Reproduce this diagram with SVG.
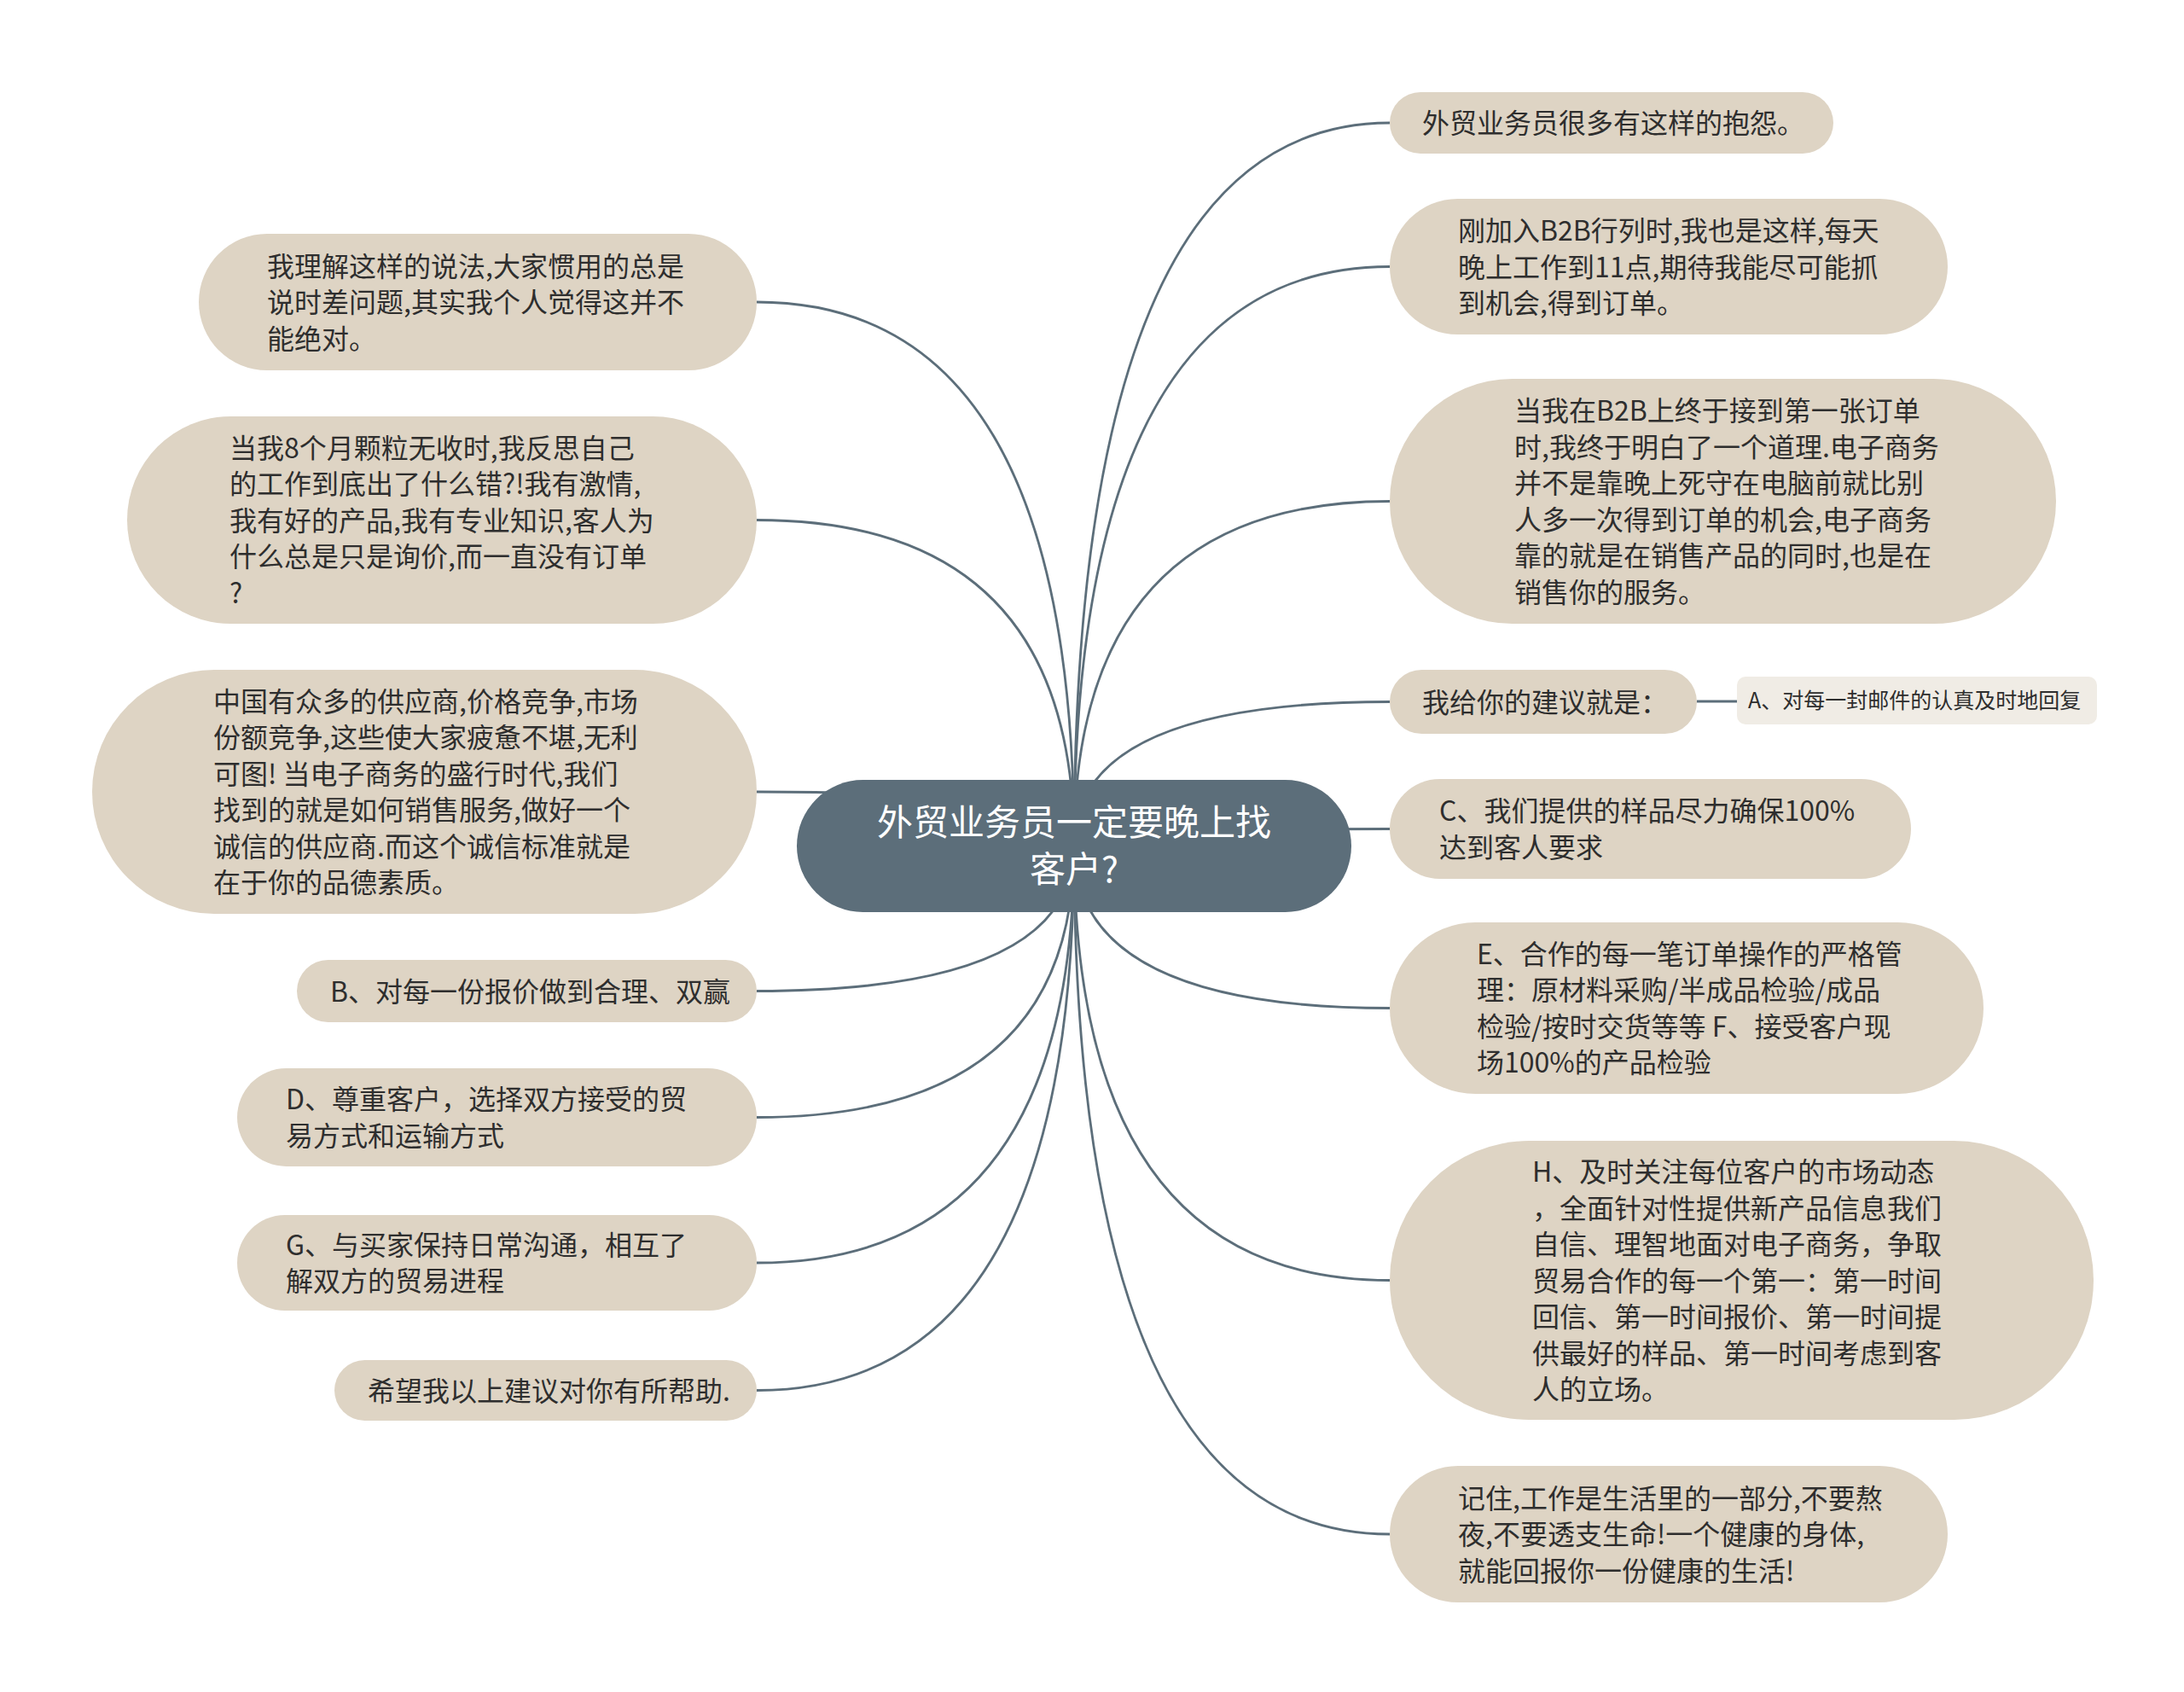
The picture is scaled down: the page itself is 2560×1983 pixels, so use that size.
<svg xmlns="http://www.w3.org/2000/svg" width="2560" height="1983" viewBox="0 0 2560 1983">
<style>
.bg{fill:#ffffff}
.conn path,.conn line{fill:none;stroke:#5c6e7a;stroke-width:2.8}
.node{fill:#ded4c4}
.sub{fill:#f0ece5}
.root{fill:#5c6e7a}
.t{font-family:"Noto Sans CJK SC","Noto Sans",sans-serif;font-size:32px;fill:#2e2e2e}
.ts{font-family:"Noto Sans CJK SC","Noto Sans",sans-serif;font-size:25px;fill:#2e2e2e}
.tr{font-family:"Noto Sans CJK SC","Noto Sans",sans-serif;font-size:42px;fill:#ffffff;text-anchor:middle}
</style>
<rect class="bg" x="0" y="0" width="2560" height="1983"/>
<g id="connectors" class="conn">
<path d="M1259 991 Q1259 144 1629 144"/>
<path d="M1259 991 Q1259 312.5 1629 312.5"/>
<path d="M1259 991 Q1259 587.5 1629 587.5"/>
<path d="M1259 991 Q1259 822.5 1629 822.5"/>
<path d="M1259 991 Q1259 971.5 1629 971.5"/>
<path d="M1259 991 Q1259 1181.5 1629 1181.5"/>
<path d="M1259 991 Q1259 1500.5 1629 1500.5"/>
<path d="M1259 991 Q1259 1798 1629 1798"/>
<path d="M1259 991 Q1259 354 887 354"/>
<path d="M1259 991 Q1259 609.5 887 609.5"/>
<path d="M1259 991 Q1259 928 887 928"/>
<path d="M1259 991 Q1259 1161.5 887 1161.5"/>
<path d="M1259 991 Q1259 1309.5 887 1309.5"/>
<path d="M1259 991 Q1259 1480 887 1480"/>
<path d="M1259 991 Q1259 1629.5 887 1629.5"/>
<line x1="1989" y1="822" x2="2036" y2="822"/>
</g>
<g id="root">
<rect class="root" x="934" y="914" width="650" height="155" rx="77.5"/>
<text class="tr" x="1259" y="979">外贸业务员一定要晚上找</text>
<text class="tr" x="1259" y="1034">客户?</text>
</g>
<g id="r1">
<rect class="node" x="1629" y="108" width="520" height="72" rx="36"/>
<text class="t" x="1667" y="156">外贸业务员很多有这样的抱怨。</text>
</g>
<g id="r2">
<rect class="node" x="1629" y="233" width="654" height="159" rx="79.5"/>
<text class="t" x="1709" y="282">刚加入B2B行列时,我也是这样,每天</text>
<text class="t" x="1709" y="324.5">晚上工作到11点,期待我能尽可能抓</text>
<text class="t" x="1709" y="367">到机会,得到订单。</text>
</g>
<g id="r3">
<rect class="node" x="1629" y="444" width="781" height="287" rx="143.5"/>
<text class="t" x="1775" y="493">当我在B2B上终于接到第一张订单</text>
<text class="t" x="1775" y="535.5">时,我终于明白了一个道理.电子商务</text>
<text class="t" x="1775" y="578">并不是靠晚上死守在电脑前就比别</text>
<text class="t" x="1775" y="620.5">人多一次得到订单的机会,电子商务</text>
<text class="t" x="1775" y="663">靠的就是在销售产品的同时,也是在</text>
<text class="t" x="1775" y="705.5">销售你的服务。</text>
</g>
<g id="r4">
<rect class="node" x="1629" y="785" width="360" height="75" rx="37.5"/>
<text class="t" x="1667" y="834.5">我给你的建议就是：</text>
</g>
<g id="r4a">
<rect class="sub" x="2036" y="793" width="422" height="56" rx="10"/>
<text class="ts" x="2049" y="830">A、对每一封邮件的认真及时地回复</text>
</g>
<g id="r5">
<rect class="node" x="1629" y="913" width="611" height="117" rx="58.5"/>
<text class="t" x="1687" y="962">C、我们提供的样品尽力确保100%</text>
<text class="t" x="1687" y="1004.5">达到客人要求</text>
</g>
<g id="r6">
<rect class="node" x="1629" y="1081" width="696" height="201" rx="100.5"/>
<text class="t" x="1731" y="1129.75">E、合作的每一笔订单操作的严格管</text>
<text class="t" x="1731" y="1172.25">理：原材料采购/半成品检验/成品</text>
<text class="t" x="1731" y="1214.75" xml:space="preserve">检验/按时交货等等 F、接受客户现</text>
<text class="t" x="1731" y="1257.25">场100%的产品检验</text>
</g>
<g id="r7">
<rect class="node" x="1629" y="1337" width="825" height="327" rx="163.5"/>
<text class="t" x="1796" y="1385">H、及时关注每位客户的市场动态</text>
<text class="t" x="1796" y="1427.5">，全面针对性提供新产品信息我们</text>
<text class="t" x="1796" y="1470">自信、理智地面对电子商务，争取</text>
<text class="t" x="1796" y="1512.5">贸易合作的每一个第一：第一时间</text>
<text class="t" x="1796" y="1555">回信、第一时间报价、第一时间提</text>
<text class="t" x="1796" y="1597.5">供最好的样品、第一时间考虑到客</text>
<text class="t" x="1796" y="1640">人的立场。</text>
</g>
<g id="r8">
<rect class="node" x="1629" y="1718" width="654" height="160" rx="80"/>
<text class="t" x="1709" y="1767.5">记住,工作是生活里的一部分,不要熬</text>
<text class="t" x="1709" y="1810">夜,不要透支生命!一个健康的身体,</text>
<text class="t" x="1709" y="1852.5">就能回报你一份健康的生活!</text>
</g>
<g id="l1">
<rect class="node" x="233" y="274" width="654" height="160" rx="80"/>
<text class="t" x="313" y="323.5">我理解这样的说法,大家惯用的总是</text>
<text class="t" x="313" y="366">说时差问题,其实我个人觉得这并不</text>
<text class="t" x="313" y="408.5">能绝对。</text>
</g>
<g id="l2">
<rect class="node" x="149" y="488" width="738" height="243" rx="121.5"/>
<text class="t" x="269" y="536.5">当我8个月颗粒无收时,我反思自己</text>
<text class="t" x="269" y="579">的工作到底出了什么错?!我有激情,</text>
<text class="t" x="269" y="621.5">我有好的产品,我有专业知识,客人为</text>
<text class="t" x="269" y="664">什么总是只是询价,而一直没有订单</text>
<text class="t" x="269" y="706.5">?</text>
</g>
<g id="l3">
<rect class="node" x="108" y="785" width="779" height="286" rx="143"/>
<text class="t" x="250" y="833.75">中国有众多的供应商,价格竞争,市场</text>
<text class="t" x="250" y="876.25">份额竞争,这些使大家疲惫不堪,无利</text>
<text class="t" x="250" y="918.75" xml:space="preserve">可图! 当电子商务的盛行时代,我们</text>
<text class="t" x="250" y="961.25">找到的就是如何销售服务,做好一个</text>
<text class="t" x="250" y="1003.75">诚信的供应商.而这个诚信标准就是</text>
<text class="t" x="250" y="1046.25">在于你的品德素质。</text>
</g>
<g id="l4">
<rect class="node" x="348" y="1125" width="539" height="73" rx="36.5"/>
<text class="t" x="387" y="1173.5">B、对每一份报价做到合理、双赢</text>
</g>
<g id="l5">
<rect class="node" x="278" y="1252" width="609" height="115" rx="57.5"/>
<text class="t" x="335" y="1300.25">D、尊重客户，选择双方接受的贸</text>
<text class="t" x="335" y="1342.75">易方式和运输方式</text>
</g>
<g id="l6">
<rect class="node" x="278" y="1424" width="609" height="112" rx="56"/>
<text class="t" x="335" y="1470.75">G、与买家保持日常沟通，相互了</text>
<text class="t" x="335" y="1513.25">解双方的贸易进程</text>
</g>
<g id="l7">
<rect class="node" x="392" y="1594" width="495" height="71" rx="35.5"/>
<text class="t" x="431" y="1641.5">希望我以上建议对你有所帮助.</text>
</g>
</svg>
